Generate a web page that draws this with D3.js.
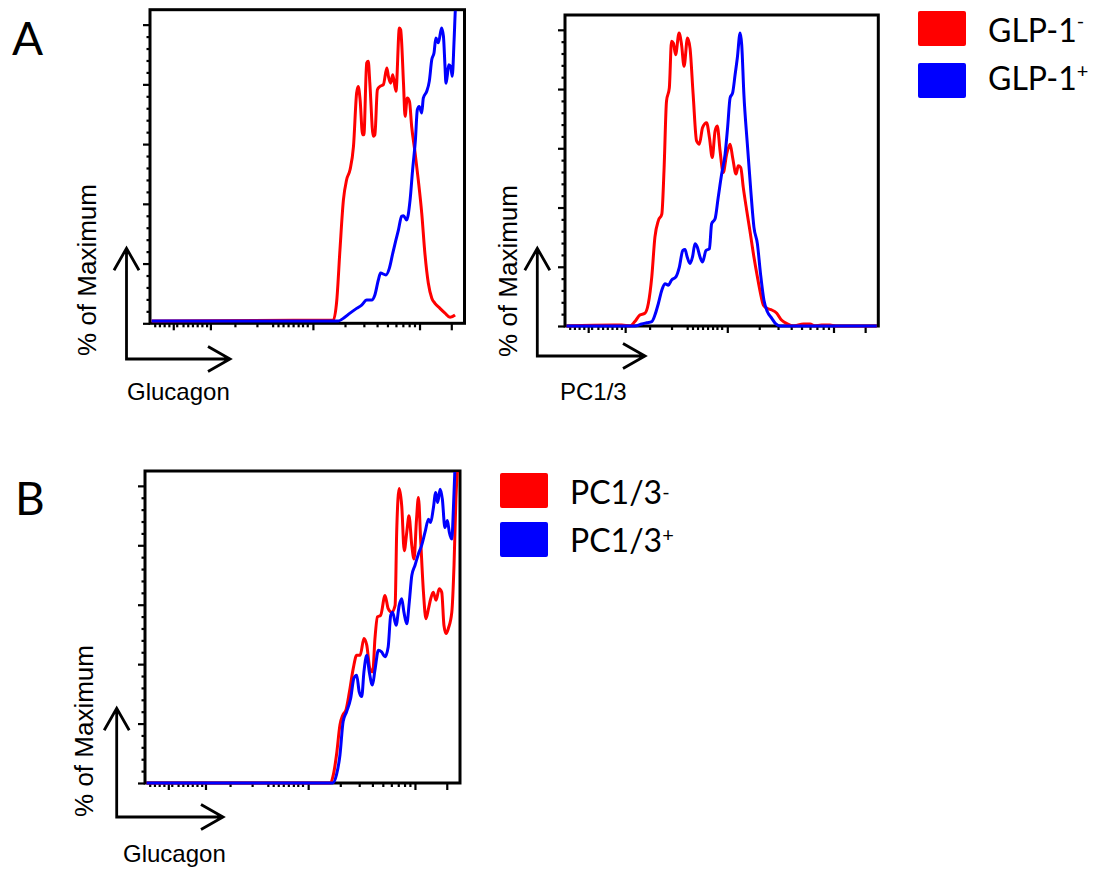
<!DOCTYPE html>
<html>
<head>
<meta charset="utf-8">
<script src="https://cdn.jsdelivr.net/npm/d3@7"></script>
<style>
  html, body { margin: 0; padding: 0; background: #fff; }
  svg { display: block; }
</style>
</head>
<body>
<svg id="fig" width="1102" height="874"></svg>
<script>
// Flow cytometry histograms: x = position along the biexponential channel axis (0–100),
// y = % of maximum.

// Shared biexponential tick layout (positions along the channel axis)
const xMajorTicks = [7.4, 19.2, 51.8, 85.7, 95.8];
const xMinorTicks = [1.5, 3, 4.5, 6, 8.5, 10.5, 12, 13.5, 15, 16.5, 18, 27, 34,
  39, 40.7, 42.3, 43.9, 45.5, 47.1, 48.5, 50, 62.0, 68.0, 72.2, 75.5, 78.2, 80.4, 82.4, 84.1];
const yMajorTicks = [0, 20, 40, 60, 80, 100];
const yMinorTicks = [4, 8, 12, 16, 24, 28, 32, 36, 44, 48, 52, 56, 64, 68, 72, 76, 84, 88, 92, 96];

// Panel A, Glucagon: GLP-1− and GLP-1+ cells
const glucagonGlp1Neg = [
  [0.5,0.8],[58.3,1.1],[59.4,7.8],[60.4,24.6],[61.5,41.3],[62.5,48.0],[63.6,51.4],[64.7,59.2],
  [65.7,77.1],[66.2,79.3],[66.8,74.9],[67.6,63.1],[68.0,63.1],[68.9,87.2],[69.4,87.7],[69.9,80.4],
  [71.0,62.6],[71.5,63.1],[72.3,78.2],[73.1,79.3],[74.2,79.9],[75.3,85.5],[75.8,82.7],[76.5,80.4],
  [77.2,83.2],[78.2,77.7],[79.3,98.9],[79.7,98.3],[80.6,80.4],[81.1,69.3],[81.8,75.4],[82.5,74.3],
  [83.2,65.9],[84.3,57.0],[85.3,48.0],[86.4,36.9],[87.4,23.5],[88.5,13.4],[89.6,8.4],[90.6,6.7],
  [92.2,5.0],[93.8,3.4],[95.4,2.0],[97.0,2.8]
];
const glucagonGlp1Pos = [
  [0.5,0.8],[59.9,0.8],[61.5,1.7],[63.6,3.4],[65.7,5.0],[67.3,6.1],[68.9,7.8],[70.5,7.8],
  [71.5,9.5],[72.6,14.5],[73.3,16.8],[75.0,16.2],[76.1,18.4],[77.2,23.5],[78.2,27.9],[79.0,31.3],
  [80.0,35.8],[80.6,36.0],[81.6,34.6],[82.7,41.3],[83.5,51.4],[84.4,61.5],[85.0,71.5],[85.6,72.6],
  [86.4,70.4],[86.9,75.4],[88.0,77.7],[88.8,81.0],[89.6,88.3],[90.3,90.5],[90.9,95.5],[91.7,93.9],
  [92.7,98.9],[93.3,96.1],[93.8,86.0],[94.1,80.4],[94.5,82.7],[95.0,86.6],[95.6,86.0],[96.1,82.7],
  [96.7,95.0],[97.1,105.0],[97.5,108]
];

// Panel A, PC1/3: GLP-1− and GLP-1+ cells
const pc13Glp1Neg = [
  [0.5,0],[15.4,0.3],[18.1,0.3],[20.7,0],[22.3,1.5],[23.9,3.7],[25.5,4.3],[26.6,7.6],[27.7,16.6],
  [28.7,30.0],[29.8,35.6],[30.9,37.8],[31.6,52.4],[32.4,75.9],[33.3,80.4],[34.0,96.1],[34.6,95.5],
  [35.3,91.6],[36.4,98.9],[37.2,95.0],[38.0,87.7],[39.1,97.2],[39.9,93.8],[40.9,78.2],[42.0,62.5],
  [42.9,61.4],[43.9,67.0],[45.2,68.6],[46.1,63.6],[47.0,56.9],[47.9,65.8],[48.6,67.5],[49.5,59.1],
  [50.5,51.8],[51.6,58.0],[52.7,61.4],[53.5,56.9],[54.6,51.3],[55.3,54.1],[56.1,53.5],[56.9,46.8],
  [58.0,39.0],[59.0,32.3],[60.3,23.3],[61.4,16.6],[62.4,11.0],[63.3,7.1],[64.6,5.9],[66.0,5.4],
  [67.6,4.3],[69.1,2.0],[70.7,0.9],[72.9,0],[76.1,0.7],[78.2,0.7],[79.8,0],[81.9,0.3],[84.6,0.3],
  [86.2,0],[99.5,0]
];
const pc13Glp1Pos = [
  [0.5,0],[22.3,0],[24.5,0.7],[26.1,1.1],[27.7,1.5],[28.7,3.7],[29.8,7.6],[30.9,12.1],[31.9,14.3],
  [33.0,13.8],[34.0,15.5],[35.4,16.6],[36.5,19.9],[37.6,25.5],[38.3,25.8],[39.0,23.3],[39.9,21.1],
  [40.7,23.3],[41.5,27.8],[42.2,26.7],[43.1,23.3],[43.9,21.6],[45.0,25.5],[46.1,26.1],[46.8,34.5],
  [47.9,36.2],[48.9,43.4],[50.0,51.3],[51.1,58.0],[51.9,67.0],[52.7,77.0],[53.5,78.7],[54.3,84.9],
  [55.0,90.5],[55.9,98.9],[56.4,95.0],[57.1,78.2],[58.2,61.4],[59.3,45.7],[60.3,33.4],[61.4,27.8],
  [62.4,17.7],[63.5,8.7],[64.6,4.8],[66.0,2.6],[67.3,0.7],[68.6,0],[99.5,0]
];

// Panel B, Glucagon: PC1/3− and PC1/3+ cells
const glucagonPc13Neg = [
  [0.5,0],[58.7,0],[59.8,2.8],[60.8,9.5],[61.9,19.6],[62.8,22.9],[63.8,24.6],[64.9,30.7],[66.1,38.5],
  [67.2,43.0],[68.3,43.0],[69.5,48.6],[70.4,46.4],[71.4,38.5],[72.3,37.4],[73.0,48.6],[73.8,55.9],
  [74.8,56.4],[76.2,63.1],[77.2,58.7],[78.3,57.5],[79.4,59.8],[79.9,84.4],[80.7,99.1],[81.5,93.3],
  [82.3,78.2],[83.1,84.4],[83.8,89.9],[84.7,79.9],[85.4,75.4],[86.2,88.8],[86.8,96.1],[87.5,82.1],
  [88.4,64.2],[89.2,55.3],[90.0,58.7],[90.7,62.0],[91.5,64.2],[92.4,61.5],[93.4,65.4],[94.2,64.2],
  [94.9,53.1],[95.6,50.3],[96.3,52.0],[97.4,57.5],[98.1,73.2],[98.7,95.5],[99.2,106]
];
const glucagonPc13Pos = [
  [0.5,0],[59.6,0],[60.8,2.8],[61.9,9.5],[62.9,20.7],[64.0,24.0],[65.3,28.5],[66.3,35.2],[67.2,36.3],
  [68.0,30.7],[68.8,29.1],[69.5,37.4],[70.4,43.0],[71.2,37.4],[72.2,33.0],[73.0,38.0],[74.1,44.7],
  [75.1,44.1],[76.2,42.5],[77.2,45.8],[78.0,56.4],[78.6,57.5],[79.7,53.1],[80.7,59.8],[81.5,62.0],
  [82.2,57.5],[83.1,53.6],[83.9,60.9],[84.7,69.8],[85.7,73.2],[86.8,77.1],[87.8,79.9],[88.9,84.4],
  [90.0,88.8],[90.7,87.7],[91.5,92.2],[92.3,97.8],[92.9,94.4],[93.7,98.9],[94.4,95.5],[95.2,86.0],
  [96.0,88.3],[96.6,84.4],[97.4,82.1],[97.9,92.2],[98.4,106]
];

const RED = "#ff0000", BLUE = "#0000ff";
const AXIS_FONT = "'Liberation Sans', Arial, sans-serif";
const LEGEND_FONT = "Lato, 'Open Sans', sans-serif";

const svg = d3.select("#fig");

const panels = [
  { id: "a1", box: { left: 150, right: 464.5, top: 9.7, bottom: 323.3 },
    series: [glucagonGlp1Neg, glucagonGlp1Pos], xLabel: "Glucagon",
    ylab: { x: 96, y: 270 }, xlab: { x: 127, y: 400 },
    arrow: { x0: 126.5, y0: 359, yTop: 248.3, xEnd: 230, head: 12.5, headLen: 22 } },
  { id: "a2", box: { left: 565, right: 878.3, top: 15, bottom: 326 },
    series: [pc13Glp1Neg, pc13Glp1Pos], xLabel: "PC1/3",
    ylab: { x: 516.5, y: 271 }, xlab: { x: 560, y: 400 },
    arrow: { x0: 537.3, y0: 356, yTop: 248.3, xEnd: 645, head: 12.5, headLen: 22 } },
  { id: "b", box: { left: 145, right: 460, top: 471, bottom: 783 },
    series: [glucagonPc13Neg, glucagonPc13Pos], xLabel: "Glucagon",
    ylab: { x: 93, y: 731 }, xlab: { x: 123, y: 862 },
    arrow: { x0: 116.7, y0: 817, yTop: 708.3, xEnd: 223, head: 12.5, headLen: 22 } }
];

panels.forEach(p => {
  const b = p.box;
  const x = d3.scaleLinear().domain([0, 100]).range([b.left, b.right]);
  const y = d3.scaleLinear().domain([0, 105]).range([b.bottom, b.top]);
  const g = svg.append("g");

  // y ticks
  const yMaj = d3.axisLeft(y).tickValues(yMajorTicks).tickSize(7).tickFormat("");
  const yMin = d3.axisLeft(y).tickValues(yMinorTicks).tickSize(3.5).tickFormat("");
  [yMaj, yMin].forEach(ax => {
    const a = g.append("g").attr("transform", `translate(${b.left},0)`).call(ax);
    a.select(".domain").remove();
    a.selectAll("line").attr("stroke", "#000").attr("stroke-width", 2.2);
  });

  // x ticks
  const xMaj = d3.axisBottom(x).tickValues(xMajorTicks).tickSize(7).tickFormat("");
  const xMin = d3.axisBottom(x).tickValues(xMinorTicks).tickSize(4).tickFormat("");
  [xMaj, xMin].forEach(ax => {
    const a = g.append("g").attr("transform", `translate(0,${b.bottom})`).call(ax);
    a.select(".domain").remove();
    a.selectAll("line").attr("stroke", "#000").attr("stroke-width", 2.2);
  });

  // frame
  g.append("rect")
    .attr("x", b.left).attr("y", b.top)
    .attr("width", b.right - b.left).attr("height", b.bottom - b.top)
    .attr("fill", "none").attr("stroke", "#000").attr("stroke-width", 3);

  // histogram curves, drawn over the baseline; clipped at the top of the frame
  g.append("clipPath").attr("id", "clip-" + p.id)
    .append("rect")
    .attr("x", b.left + 1).attr("y", b.top + 1)
    .attr("width", b.right - b.left - 2).attr("height", b.bottom - b.top + 3);

  const line = d3.line()
    .x(d => x(d[0])).y(d => y(d[1]))
    .curve(d3.curveMonotoneX);

  const colors = [RED, BLUE];
  p.series.forEach((s, i) => {
    g.append("path")
      .datum(s)
      .attr("clip-path", `url(#clip-${p.id})`)
      .attr("d", line)
      .attr("fill", "none")
      .attr("stroke", colors[i])
      .attr("stroke-width", 3)
      .attr("stroke-linejoin", "round");
  });

  // axis direction arrows
  const ar = p.arrow;
  const ap = d3.path();
  ap.moveTo(ar.x0, ar.yTop); ap.lineTo(ar.x0, ar.y0); ap.lineTo(ar.xEnd, ar.y0);
  ap.moveTo(ar.x0 - ar.head, ar.yTop + ar.headLen); ap.lineTo(ar.x0, ar.yTop); ap.lineTo(ar.x0 + ar.head, ar.yTop + ar.headLen);
  ap.moveTo(ar.xEnd - ar.headLen, ar.y0 - ar.head); ap.lineTo(ar.xEnd, ar.y0); ap.lineTo(ar.xEnd - ar.headLen, ar.y0 + ar.head);
  g.append("path").attr("d", ap.toString())
    .attr("fill", "none").attr("stroke", "#000").attr("stroke-width", 2.8)
    .attr("stroke-linecap", "butt").attr("stroke-linejoin", "miter");

  g.append("text")
    .attr("transform", `translate(${p.ylab.x},${p.ylab.y}) rotate(-90)`)
    .attr("text-anchor", "middle")
    .attr("font-family", AXIS_FONT).attr("font-size", 26)
    .text("% of Maximum");

  g.append("text")
    .attr("x", p.xlab.x).attr("y", p.xlab.y)
    .attr("font-family", AXIS_FONT).attr("font-size", 24)
    .text(p.xLabel);
});

// panel letters
[["A", 12, 55], ["B", 15, 515]].forEach(([t, lx, ly]) => {
  svg.append("text").attr("x", lx).attr("y", ly)
    .attr("font-family", LEGEND_FONT).attr("font-size", 46)
    .text(t);
});

// legends
const legends = [
  { x: 918, textX: 988, items: [
      { color: RED, top: 11, base: 42, label: "GLP-1", sup: "-", shift: 14 },
      { color: BLUE, top: 63, base: 90, label: "GLP-1", sup: "+", shift: 12 } ] },
  { x: 500, textX: 570, items: [
      { color: RED, top: 473, base: 504, label: "PC1/3", sup: "-", shift: 5 },
      { color: BLUE, top: 522, base: 552, label: "PC1/3", sup: "+", shift: 10 } ] }
];
legends.forEach(L => {
  L.items.forEach(it => {
    svg.append("rect")
      .attr("x", L.x).attr("y", it.top)
      .attr("width", 48).attr("height", 35)
      .attr("rx", 2).attr("fill", it.color);
    const t = svg.append("text")
      .attr("x", L.textX).attr("y", it.base)
      .attr("font-family", LEGEND_FONT).attr("font-size", 32);
    t.append("tspan").text(it.label);
    t.append("tspan").attr("dy", -it.shift).attr("font-size", 20).text(it.sup);
  });
});
</script>
</body>
</html>
